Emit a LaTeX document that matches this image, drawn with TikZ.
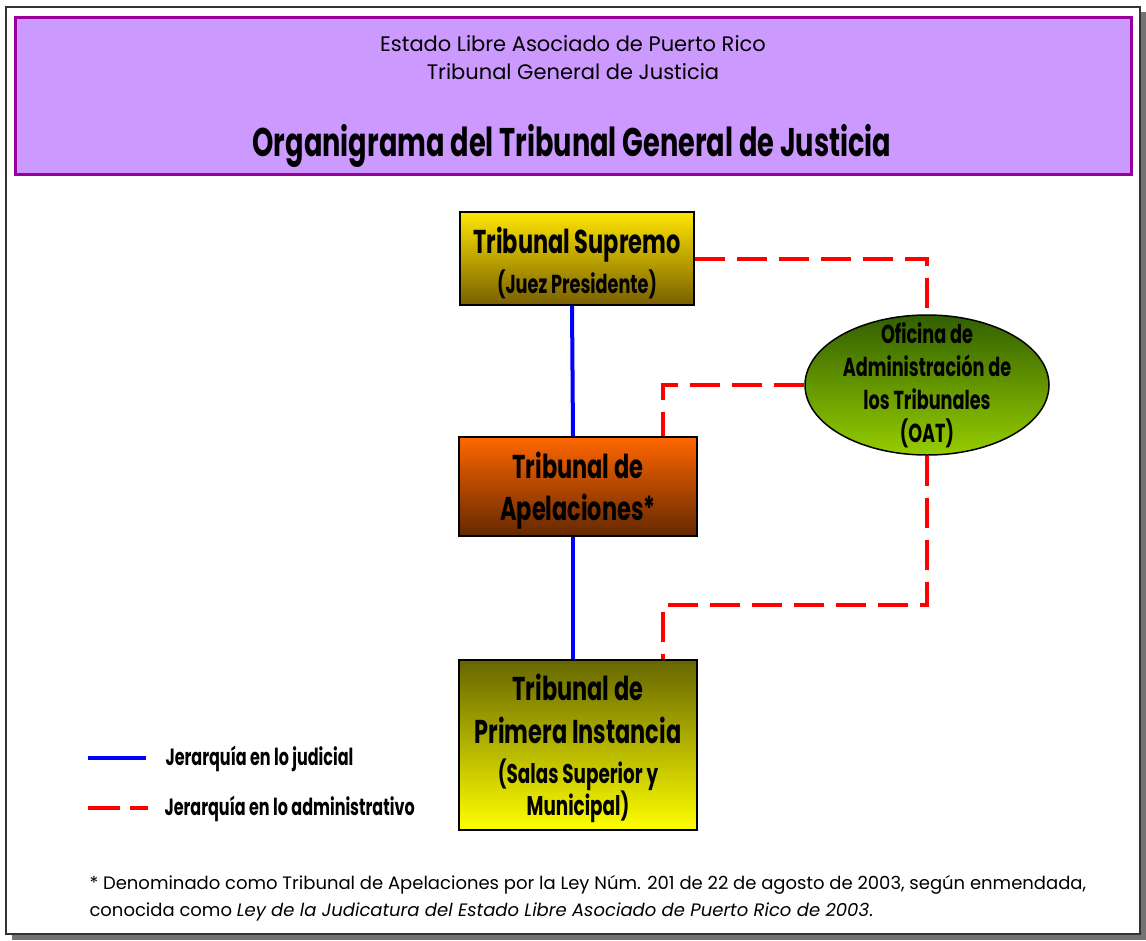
\documentclass[tikz,border=0pt]{standalone}
\usepackage{fontspec}
\setmainfont{Poppins}
\newfontfamily\cond[FakeStretch=0.68]{Poppins}
\usetikzlibrary{shapes.geometric}
\definecolor{hdrfill}{HTML}{CC99FF}
\definecolor{hdrline}{HTML}{990099}
\definecolor{admred}{HTML}{FF0000}
\definecolor{judblue}{HTML}{0000FF}
\tikzset{
  box/.style={draw=black, line width=1.5pt, minimum width=#1, inner sep=0pt, align=center, text=black},
  judicial/.style={draw=judblue, line width=4pt},
  admin/.style={draw=admred, line width=4pt, dash pattern=on 30pt off 12pt},
}
\newcommand{\midf}{\fontsize{26}{40}\selectfont}
\newcommand{\salf}{\fontsize{27}{40}\selectfont}
\begin{document}
\begin{tikzpicture}[x=1pt,y=-1pt]
\useasboundingbox (0,0) rectangle (1146,940);
% page shadow and frame
\fill[gray!90!black] (12,934) rectangle (1146,940);
\fill[gray!90!black] (1140,12) rectangle (1146,940);
\draw[line width=2pt, black!80] (6,7) rectangle (1140,934);
% header
\node[draw=hdrline, fill=hdrfill, line width=3pt, minimum width=1116pt, minimum height=157pt, inner sep=0pt] (hdr) at (573,96) {};
\node[font=\fontsize{21}{28}\selectfont, align=center] (hdr1) at (573,58) {Estado Libre Asociado de Puerto Rico\\Tribunal General de Justicia};
\node[font=\cond\bfseries\fontsize{40}{44}\selectfont] (title) at (572,146) {Organigrama del Tribunal General de Justicia};
% nodes
\node[box=234pt, minimum height=93pt, font=\cond\bfseries\fontsize{33}{40}\selectfont,
  top color=yellow!80!orange, bottom color={rgb,255:red,120;green,95;blue,0}] (sup) at (577,258.5)
  {\rule{0pt}{35pt}Tribunal Supremo\\\midf (Juez Presidente)};
\node[box=238pt, minimum height=99pt, font=\cond\bfseries\fontsize{33}{42}\selectfont,
  top color={rgb,255:red,255;green,102;blue,0}, bottom color={rgb,255:red,100;green,40;blue,0}] (ape) at (578,486.5)
  {\rule{0pt}{35pt}Tribunal de\\Apelaciones*};
\node[box=238pt, minimum height=170pt, font=\cond\bfseries\fontsize{33}{40}\selectfont,
  top color={rgb,255:red,102;green,102;blue,0}, bottom color={rgb,255:red,255;green,255;blue,0}] (pri) at (578,745)
  {\rule{0pt}{33pt}Tribunal de\\[3pt]Primera Instancia\\\salf (Salas Superior y\\[-8pt]\salf Municipal)};
\node[ellipse, draw=black, line width=1.5pt, minimum width=244pt, minimum height=140pt, inner sep=0pt,
  top color={rgb,255:red,50;green,95;blue,0}, bottom color={rgb,255:red,150;green,205;blue,0}] (oat) at (927,385) {};
\node[align=center, inner sep=0pt, font=\cond\bfseries\fontsize{26}{33}\selectfont] (oattxt) at (oat.center)
  {Oficina de\\Administración de\\los Tribunales\\(OAT)};
% connectors
\draw[judicial] ([xshift=-5pt]sup.south) -- ([xshift=-5pt]ape.north);
\draw[judicial] ([xshift=-5pt]ape.south) -- ([xshift=-5pt]pri.north);
\draw[admin] (sup.east) -| (oat.north);
\draw[admin] (oat.west) -| ([xshift=85pt]ape.north);
\coordinate (k) at (927,605);
\draw[admin] (oat.south) -- (k) -| ([xshift=85pt]pri.north);
% legend
\coordinate (lb1) at (88,758);
\coordinate (lb2) at (146,758);
\draw[judicial] (lb1) -- (lb2);
\coordinate (lr1) at (88,808);
\coordinate (lr2) at (148,808);
\draw[admin, dash pattern=on 32pt off 10pt] (lr1) -- (lr2);
\node[anchor=west, font=\cond\bfseries\fontsize{23.5}{28}\selectfont] (leg1) at (162,759) {Jerarquía en lo judicial};
\node[anchor=west, font=\cond\bfseries\fontsize{23.5}{28}\selectfont] (leg2) at (161,809) {Jerarquía en lo administrativo};
% footnote
\node[anchor=west, font=\fontsize{18}{27}\selectfont, align=left] (fn) at (86,898)
  {* Denominado como Tribunal de Apelaciones por la Ley Núm. 201 de 22 de agosto de 2003, según enmendada,\\conocida como \textit{Ley de la Judicatura del Estado Libre Asociado de Puerto Rico de 2003}.};
\end{tikzpicture}
\end{document}
